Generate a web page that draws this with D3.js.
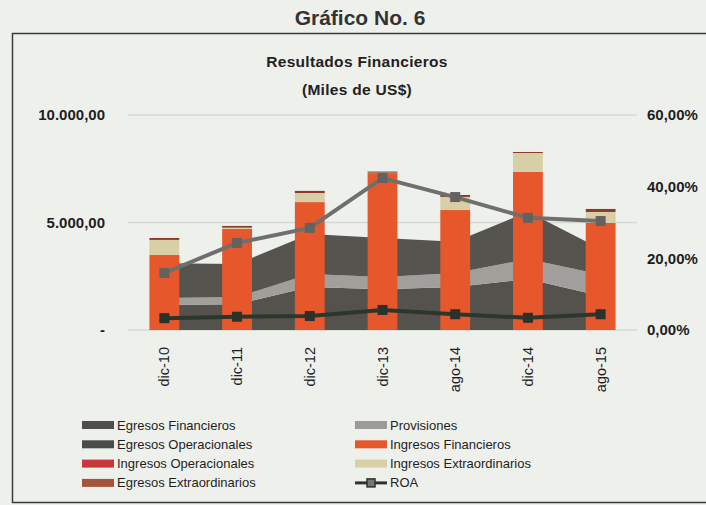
<!DOCTYPE html>
<html>
<head>
<meta charset="utf-8">
<script src="https://cdn.jsdelivr.net/npm/d3@7"></script>
<style>
	body { margin: 0; background: #eef0ec; }
	svg { display: block; font-family: "Liberation Sans", Arial, sans-serif; }
</style>
</head>
<body>
<div id="grafico"></div>
<script>
// datos
var categorias = ["dic-10", "dic-11", "dic-12", "dic-13", "ago-14", "dic-14", "ago-15"];
var egresosFinancieros = [1160, 1200, 2000, 1900, 2000, 2370, 1580];
var provisiones = [330, 330, 600, 560, 650, 930, 1000];
var egresosOperacionales = [1610, 1540, 1870, 1820, 1450, 2200, 1190];
var ingresosFinancieros = [3490, 4700, 5950, 7300, 5580, 7350, 4980];
var ingresosOperacionales = [0, 0, 0, 0, 0, 0, 0];
var ingresosExtraordinarios = [700, 60, 420, 20, 610, 880, 510];
var egresosExtraordinarios = [90, 80, 100, 50, 90, 50, 140];
var roe = [0.159, 0.243, 0.285, 0.424, 0.371, 0.313, 0.304];
var roa = [0.033, 0.037, 0.039, 0.056, 0.044, 0.034, 0.044];
var ticksMiles = [0, 5000, 10000];
var ticksPct = [0, 0.2, 0.4, 0.6];

var width = 706,
	height = 505;
var margin = {
	top: 115,
	right: 69,
	bottom: 175,
	left: 128
};

var svg = d3.select("#grafico").append("svg")
	.attr("width", width)
	.attr("height", height);

svg.append("rect")
	.attr("width", width)
	.attr("height", height)
	.attr("fill", "#eef0ec");

// marco
svg.append("rect")
	.attr("x", 12.5)
	.attr("y", 33.5)
	.attr("width", 720)
	.attr("height", 469)
	.attr("fill", "none")
	.attr("stroke", "#3c3c3c")
	.attr("stroke-width", 1.5);

svg.append("text")
	.attr("x", 360)
	.attr("y", 25)
	.attr("text-anchor", "middle")
	.attr("font-size", 21)
	.attr("font-weight", "bold")
	.attr("fill", "#333")
	.text("Gráfico No. 6");

svg.append("text")
	.attr("x", 357)
	.attr("y", 67)
	.attr("text-anchor", "middle")
	.attr("font-size", 15.5)
	.attr("font-weight", "bold")
	.attr("letter-spacing", "0.3")
	.attr("fill", "#222")
	.text("Resultados Financieros");

svg.append("text")
	.attr("x", 357)
	.attr("y", 95)
	.attr("text-anchor", "middle")
	.attr("font-size", 15.5)
	.attr("font-weight", "bold")
	.attr("letter-spacing", "0.3")
	.attr("fill", "#222")
	.text("(Miles de US$)");

// escalas
var x = d3.scaleBand()
	.domain(categorias)
	.range([margin.left, width - margin.right])
	.paddingInner(0.59)
	.paddingOuter(0.295);

var y = d3.scaleLinear()
	.domain([0, 10000])
	.range([height - margin.bottom, margin.top]);

var y2 = d3.scaleLinear()
	.domain([0, 0.6])
	.range([height - margin.bottom, margin.top]);

var cx = d => x(d) + x.bandwidth() / 2;

// lineas de cuadricula
svg.append("g")
	.selectAll("line")
	.data(ticksMiles)
	.join("line")
	.attr("x1", margin.left)
	.attr("x2", width - margin.right)
	.attr("y1", d => y(d))
	.attr("y2", d => y(d))
	.attr("stroke", "#d6d8d3")
	.attr("stroke-width", 1.5);

// areas apiladas (egresos)
var tabla = categorias.map((c, i) => ({
	cat: c,
	ef: egresosFinancieros[i],
	pr: provisiones[i],
	eo: egresosOperacionales[i],
	inf: ingresosFinancieros[i],
	io: ingresosOperacionales[i],
	ie: ingresosExtraordinarios[i],
	ee: egresosExtraordinarios[i]
}));

var pilaAreas = d3.stack().keys(["ef", "pr", "eo"])(tabla);
var coloresArea = { ef: "#53524d", pr: "#a09f9b", eo: "#55544f" };

var area = d3.area()
	.x(d => cx(d.data.cat))
	.y0(d => y(d[0]))
	.y1(d => y(d[1]));

svg.append("g")
	.selectAll("path")
	.data(pilaAreas)
	.join("path")
	.attr("fill", d => coloresArea[d.key])
	.attr("d", area);

// columnas apiladas (ingresos)
var pilaBarras = d3.stack().keys(["inf", "io", "ie", "ee"])(tabla);
var coloresBarra = { inf: "#e6582b", io: "#c8373a", ie: "#d9cfa6", ee: "#8a3b2c" };

svg.append("g")
	.selectAll("g")
	.data(pilaBarras)
	.join("g")
	.attr("fill", d => coloresBarra[d.key])
	.selectAll("rect")
	.data(d => d)
	.join("rect")
	.attr("x", d => x(d.data.cat))
	.attr("y", d => y(d[1]))
	.attr("height", d => y(d[0]) - y(d[1]))
	.attr("width", x.bandwidth());

// lineas de porcentaje
function dibujarLinea(valores, color, colorMarca) {
	var linea = d3.line()
		.x((d, i) => cx(categorias[i]))
		.y(d => y2(d));
	svg.append("path")
		.datum(valores)
		.attr("fill", "none")
		.attr("stroke", color)
		.attr("stroke-width", 4)
		.attr("d", linea);
	svg.append("g")
		.selectAll("rect")
		.data(valores)
		.join("rect")
		.attr("x", (d, i) => cx(categorias[i]) - 5)
		.attr("y", d => y2(d) - 5)
		.attr("width", 10)
		.attr("height", 10)
		.attr("fill", colorMarca);
}
dibujarLinea(roe, "#6f6f6e", "#626261");
dibujarLinea(roa, "#2d362e", "#2a322b");

// ejes
var fmtMiles = d => d === 0 ? "-" : d3.format(",.2f")(d).replace(/,/g, "#").replace(".", ",").replace(/#/g, ".");
var fmtPct = d => d3.format(".2f")(d * 100).replace(".", ",") + "%";

var yAxis = g => g
	.attr("transform", `translate(${margin.left - 20},0)`)
	.call(d3.axisLeft(y).tickValues(ticksMiles).tickFormat(fmtMiles).tickSize(0))
	.call(g => g.select(".domain").remove());

var yAxis2 = g => g
	.attr("transform", `translate(${width - margin.right + 7},0)`)
	.call(d3.axisRight(y2).tickValues(ticksPct).tickFormat(fmtPct).tickSize(0))
	.call(g => g.select(".domain").remove());

var xAxis = g => g
	.attr("transform", `translate(0,${height - margin.bottom})`)
	.call(d3.axisBottom(x).tickSize(0))
	.call(g => g.select(".domain").remove());

svg.append("g")
	.call(yAxis)
	.selectAll("text")
	.attr("font-size", 15)
	.attr("font-weight", "bold")
	.attr("fill", "#1e1e1e")
	.attr("font-family", "Liberation Sans, Arial, sans-serif");

svg.append("g")
	.call(yAxis2)
	.selectAll("text")
	.attr("font-size", 15)
	.attr("font-weight", "bold")
	.attr("fill", "#1e1e1e")
	.attr("font-family", "Liberation Sans, Arial, sans-serif");

svg.append("g")
	.call(xAxis)
	.selectAll("text")
	.attr("font-size", 14.5)
	.attr("fill", "#1e1e1e")
	.attr("font-family", "Liberation Sans, Arial, sans-serif")
	.style("text-anchor", "end")
	.attr("transform", "rotate(-90)")
	.attr("x", 0)
	.attr("y", 0)
	.attr("dy", "0.35em")
	.attr("dx", "-17");

// leyenda
var leyenda = [
	{ nombre: "Egresos Financieros", color: "#4f4e4a", col: 0, fila: 0 },
	{ nombre: "Egresos Operacionales", color: "#4a4c47", col: 0, fila: 1 },
	{ nombre: "Ingresos Operacionales", color: "#c8373a", col: 0, fila: 2 },
	{ nombre: "Egresos Extraordinarios", color: "#a4543d", col: 0, fila: 3 },
	{ nombre: "Provisiones", color: "#9c9b98", col: 1, fila: 0 },
	{ nombre: "Ingresos Financieros", color: "#e6582b", col: 1, fila: 1 },
	{ nombre: "Ingresos Extraordinarios", color: "#d9cfa6", col: 1, fila: 2 },
	{ nombre: "ROA", color: null, col: 1, fila: 3 }
];

var ley = svg.append("g")
	.selectAll("g")
	.data(leyenda)
	.join("g")
	.attr("transform", d => `translate(${d.col ? 355 : 82},${425 + d.fila * 19.3})`);

ley.filter(d => d.color)
	.append("rect")
	.attr("x", 0)
	.attr("y", -4)
	.attr("width", 32)
	.attr("height", 8)
	.attr("fill", d => d.color);

var roaLey = ley.filter(d => !d.color);
roaLey.append("line")
	.attr("x1", 0)
	.attr("x2", 32)
	.attr("stroke", "#2d322e")
	.attr("stroke-width", 3);
roaLey.append("rect")
	.attr("x", 12)
	.attr("y", -4)
	.attr("width", 8)
	.attr("height", 8)
	.attr("fill", "#777")
	.attr("stroke", "#2d322e")
	.attr("stroke-width", 1.5);

ley.append("text")
	.attr("x", 35)
	.attr("dy", "0.35em")
	.attr("font-size", 13)
	.attr("fill", "#1e1e1e")
	.text(d => d.nombre);
</script>
</body>
</html>
